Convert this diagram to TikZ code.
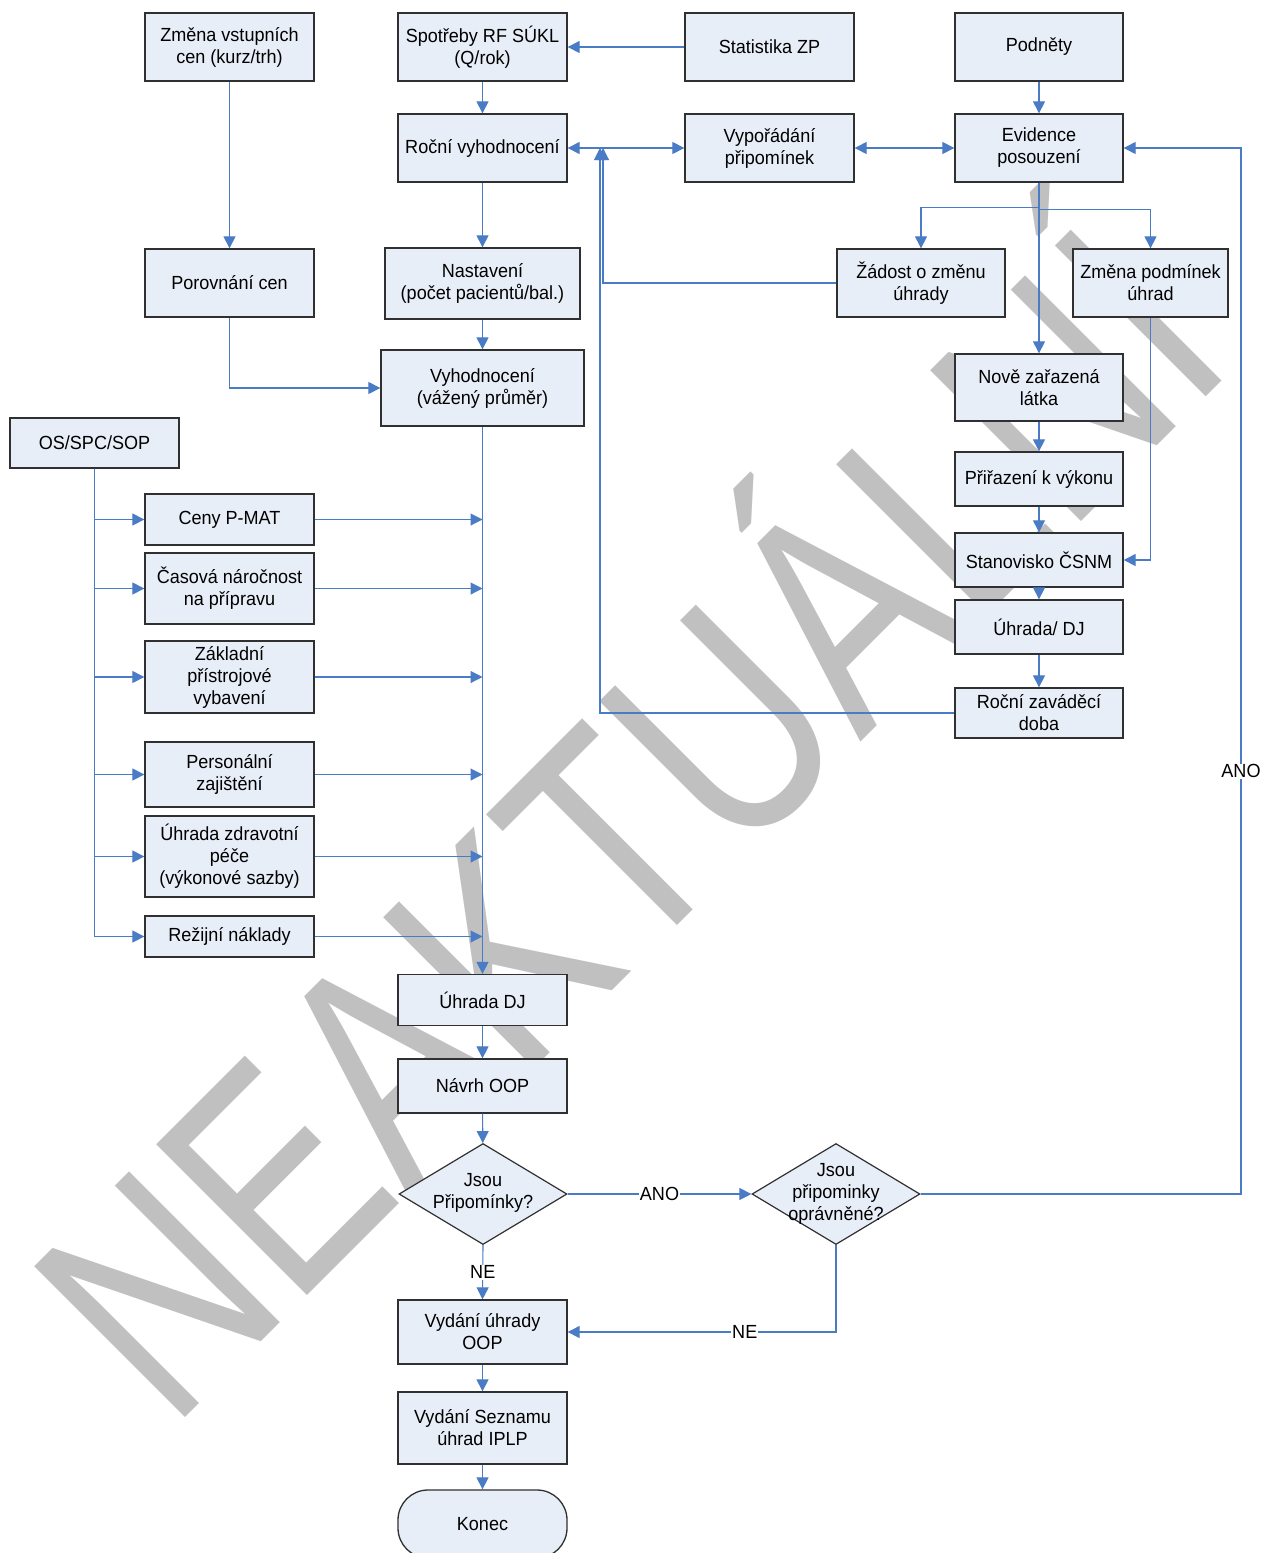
\documentclass[tikz,border=0pt]{standalone}
\usepackage{fontspec}
\setmainfont{Liberation Sans}
\newfontfamily\boxfamily[FakeStretch=0.95]{Liberation Sans}
\newfontfamily\wmfamily[FakeStretch=0.775]{Liberation Sans}
\usetikzlibrary{arrows.meta,shapes.geometric,calc}
\definecolor{boxfill}{HTML}{E8EEF8}
\definecolor{linkblue}{HTML}{4A7CC6}
\definecolor{wmgray}{HTML}{C0C0C0}
\definecolor{boxline}{HTML}{303030}
\begin{document}
\begin{tikzpicture}[x=1pt,y=-1pt,
  txt/.style={font=\boxfamily\fontsize{19}{22}\selectfont, text=black},
  box/.style={txt, draw=boxline, line width=1.3pt, fill=boxfill, inner sep=0pt, align=center},
  bx/.style 2 args={box, minimum width=#1pt, minimum height=#2pt},
  dia/.style={diamond, draw=boxline, line width=1.2pt, fill=boxfill, inner sep=0pt, minimum width=168pt, minimum height=101pt},
  dtext/.style={txt, align=center, inner sep=0pt},
  arr/.style={draw=linkblue, line width=1.1pt, -{Triangle[length=12pt,width=12pt]}},
  arrb/.style={draw=linkblue, line width=1.1pt, {Triangle[length=12pt,width=12pt]}-{Triangle[length=12pt,width=12pt]}},
  lbl/.style={txt, fill=white, inner sep=1pt},
  wm/.style={font=\wmfamily\fontsize{310}{310}\selectfont, text=wmgray, inner sep=0pt}
]
\useasboundingbox (0,0) rectangle (1263,1553);
\clip (0,0) rectangle (1263,1553);
\fill[white] (0,0) rectangle (1263,1553);

% watermark
\node[wm, rotate=45, anchor=base west] (wmark) at (171,1432) {NEAKTUÁLNÍ};

% top rows
\node[bx={169}{68}] (zmena) at (229.5,47) {Změna vstupních\\cen (kurz/trh)};
\node[bx={169}{68}] (spotreby) at (482.5,47) {Spotřeby RF SÚKL\\(Q/rok)};
\node[bx={169}{68}] (stat) at (769.5,47) {Statistika ZP};
\node[bx={168}{68}] (podnety) at (1039,47) {Podněty};
\node[bx={169}{68}] (rocni) at (482.5,148) {Roční vyhodnocení};
\node[bx={169}{68}] (vyporadani) at (769.5,148) {Vypořádání\\připomínek};
\node[bx={168}{68}] (evidence) at (1039,148) {Evidence\\posouzení};
\node[bx={169}{68}] (porovnani) at (229.5,283) {Porovnání cen};
\node[bx={195}{71}] (nastaveni) at (482.5,283.5) {Nastavení\\(počet pacientů/bal.)};
\node[bx={203}{76}] (vyhodn) at (482.5,388) {Vyhodnocení\\(vážený průměr)};
\node[bx={168}{68}] (zadost) at (921,283) {Žádost o změnu\\úhrady};
\node[bx={155}{68}] (zmenapod) at (1150.5,283) {Změna podmínek\\úhrad};
\node[bx={168}{67}] (nove) at (1039,387.5) {Nově zařazená\\látka};
\node[bx={168}{54}] (prirazeni) at (1039,479) {Přiřazení k výkonu};
\node[bx={168}{54}] (stanovisko) at (1039,560) {Stanovisko ČSNM};
\node[bx={168}{54}] (uhrdj) at (1039,627) {Úhrada/ DJ};
\node[bx={168}{50}] (zavadeci) at (1039,713) {Roční zaváděcí\\doba};

% left column
\node[bx={169}{50}] (os) at (94.5,443) {OS/SPC/SOP};
\node[bx={169}{51}] (ceny) at (229.5,519.5) {Ceny P-MAT};
\node[bx={169}{71}] (casova) at (229.5,588.5) {Časová náročnost\\na přípravu};
\node[bx={169}{72}] (zakladni) at (229.5,677) {Základní\\přístrojové\\vybavení};
\node[bx={169}{65}] (personal) at (229.5,774.5) {Personální\\zajištění};
\node[bx={169}{81}] (uhrzdrav) at (229.5,856.5) {Úhrada zdravotní\\péče\\(výkonové sazby)};
\node[bx={169}{41}] (rezijni) at (229.5,936.5) {Režijní náklady};

% bottom column
\node[bx={169}{51}] (uhradaDJ) at (482.5,1000) {Úhrada DJ};
\node[bx={169}{54}] (navrh) at (482.5,1086) {Návrh OOP};
\node[dia] (d1) at (483,1194) {};
\node[dtext] (d1t) at (483,1193) {Jsou\\Připomínky?};
\node[dia] (d2) at (836,1194) {};
\node[dtext] (d2t) at (836,1194) {Jsou\\připominky\\oprávněné?};
\node[bx={169}{64}] (vydani) at (482.5,1332) {Vydání úhrady\\OOP};
\node[bx={169}{72}] (seznam) at (482.5,1428) {Vydání Seznamu\\úhrad IPLP};
\node[bx={169}{68}, rounded corners=30pt] (konec) at (482.5,1524) {Konec};

% connectors top
\draw[arr] (zmena) -- (porovnani);
\draw[arr] (porovnani.south) |- (vyhodn.west);
\draw[arr] (stat) -- (spotreby);
\draw[arr] (spotreby) -- (rocni);
\draw[arr] (rocni) -- (nastaveni);
\draw[arr] (nastaveni) -- (vyhodn);
\draw[arrb] (rocni) -- (vyporadani);
\draw[arrb] (vyporadani) -- (evidence);
\draw[arr] (podnety) -- (evidence);
\draw[arr] (evidence.south) -- ++(0,25) -| (zadost.north);
\draw[arr] ($(evidence.south)+(0,27)$) -| (zmenapod.north);
\draw[arr] (evidence) -- (nove);
\draw[arr] (nove) -- (prirazeni);
\draw[arr] (prirazeni) -- (stanovisko);
\draw[arr] (zmenapod.south) |- (stanovisko.east);
\draw[arr] (stanovisko) -- (uhrdj);
\draw[arr] (uhrdj) -- (zavadeci);
\coordinate (fb1) at (603,148);
\coordinate (fb2) at (600,148);
\draw[arr] (zadost.west) -| (fb1);
\draw[arr] (zavadeci.west) -| (fb2);

% left bus
\draw[arr] (os.south) |- (ceny.west);
\draw[arr] (os.south) |- (casova.west);
\draw[arr] (os.south) |- (zakladni.west);
\draw[arr] (os.south) |- (personal.west);
\draw[arr] (os.south) |- (uhrzdrav.west);
\draw[arr] (os.south) |- (rezijni.west);
\draw[arr] (ceny.east) -- (ceny.east -| vyhodn.south);
\draw[arr] (casova.east) -- (casova.east -| vyhodn.south);
\draw[arr] (zakladni.east) -- (zakladni.east -| vyhodn.south);
\draw[arr] (personal.east) -- (personal.east -| vyhodn.south);
\draw[arr] (uhrzdrav.east) -- (uhrzdrav.east -| vyhodn.south);
\draw[arr] (rezijni.east) -- (rezijni.east -| vyhodn.south);
\draw[arr] (vyhodn) -- (uhradaDJ);

% bottom
\draw[arr] (uhradaDJ) -- (navrh);
\draw[arr] (navrh) -- (d1);
\draw[arr] (d1.east) -- node[lbl]{ANO} (d2.west);
\draw[arr] (d1.south) -- node[lbl]{NE} (vydani.north);
\draw[arr] (d2.south) |- node[lbl, pos=0.67]{NE} (vydani.east);
\coordinate (rl) at (1241,148);
\draw[arr] (d2.east) -| node[lbl, pos=0.702]{ANO} (rl) -- (evidence.east);
\draw[arr] (vydani) -- (seznam);
\draw[arr] (seznam) -- (konec);
\end{tikzpicture}
\end{document}
